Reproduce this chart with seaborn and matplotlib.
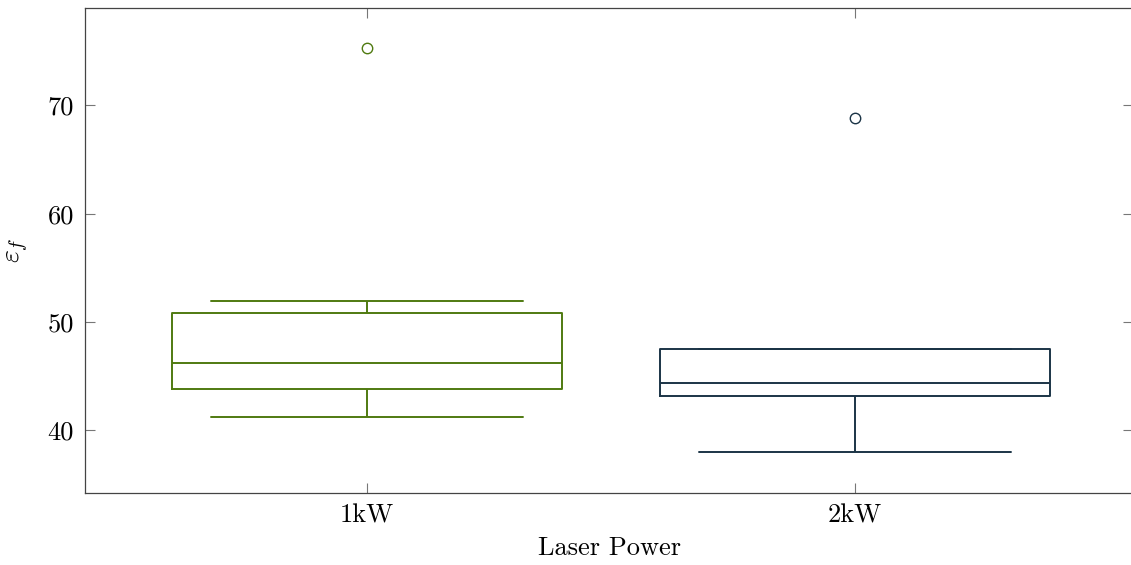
import matplotlib
matplotlib.use("Agg")
import matplotlib.pyplot as plt
import seaborn as sns
import pandas as pd

# Fracture strain samples per laser power (whisker ends, quartiles, median, outlier)
power_levels = ["1kW", "2kW"]
strain_1kw = [41.2, 43.8, 43.8, 46.2, 46.2, 50.8, 50.8, 51.9, 75.3]
strain_2kw = [38.0, 43.2, 43.2, 44.4, 44.4, 47.5, 47.5, 47.5, 68.8]
box_colors = ["#4f7a10", "#1b3446"]
y_ticks = [40, 50, 60, 70]

df = pd.DataFrame({
    "power": [power_levels[0]] * len(strain_1kw) + [power_levels[1]] * len(strain_2kw),
    "strain": strain_1kw + strain_2kw,
})

sns.set_theme(style="white")
plt.rcParams["font.family"] = ["cmr10", "DejaVu Serif"]
plt.rcParams["mathtext.fontset"] = "cm"
plt.rcParams["axes.formatter.use_mathtext"] = True
plt.rcParams["axes.unicode_minus"] = False
plt.rcParams["text.color"] = "black"
plt.rcParams["axes.labelcolor"] = "black"
plt.rcParams["xtick.labelcolor"] = "black"
plt.rcParams["ytick.labelcolor"] = "black"

fig = plt.figure(figsize=(11.31, 5.65), dpi=100)
ax = fig.add_axes([85 / 1131, 1 - 493 / 565, (1133 - 85) / 1131, (493 - 8) / 565])

sns.boxplot(
    data=df, x="power", y="strain", hue="power", palette=box_colors,
    order=power_levels, hue_order=power_levels, legend=False,
    fill=False, width=0.8, whis=1.5, linewidth=1.4, fliersize=7.5,
    capwidths=0.64, ax=ax,
)

ax.set_xlim(-0.578, 1.57)
ax.set_ylim(34.2, 79.0)
ax.set_yticks(y_ticks)
ax.set_yticklabels([str(v) for v in y_ticks])

for s in ax.spines.values():
    s.set_visible(True)
    s.set_color("#444444")
    s.set_linewidth(0.9)

ax.tick_params(axis="both", direction="in", length=7, width=0.8, color="#777777",
               top=True, right=True, bottom=True, left=True,
               labelsize=19, pad=8)

ax.set_xlabel("Laser Power", fontsize=19, labelpad=6)
ax.set_ylabel(r"$\varepsilon_f$", fontsize=20, labelpad=12)

fig.savefig("out.png", dpi=100)
